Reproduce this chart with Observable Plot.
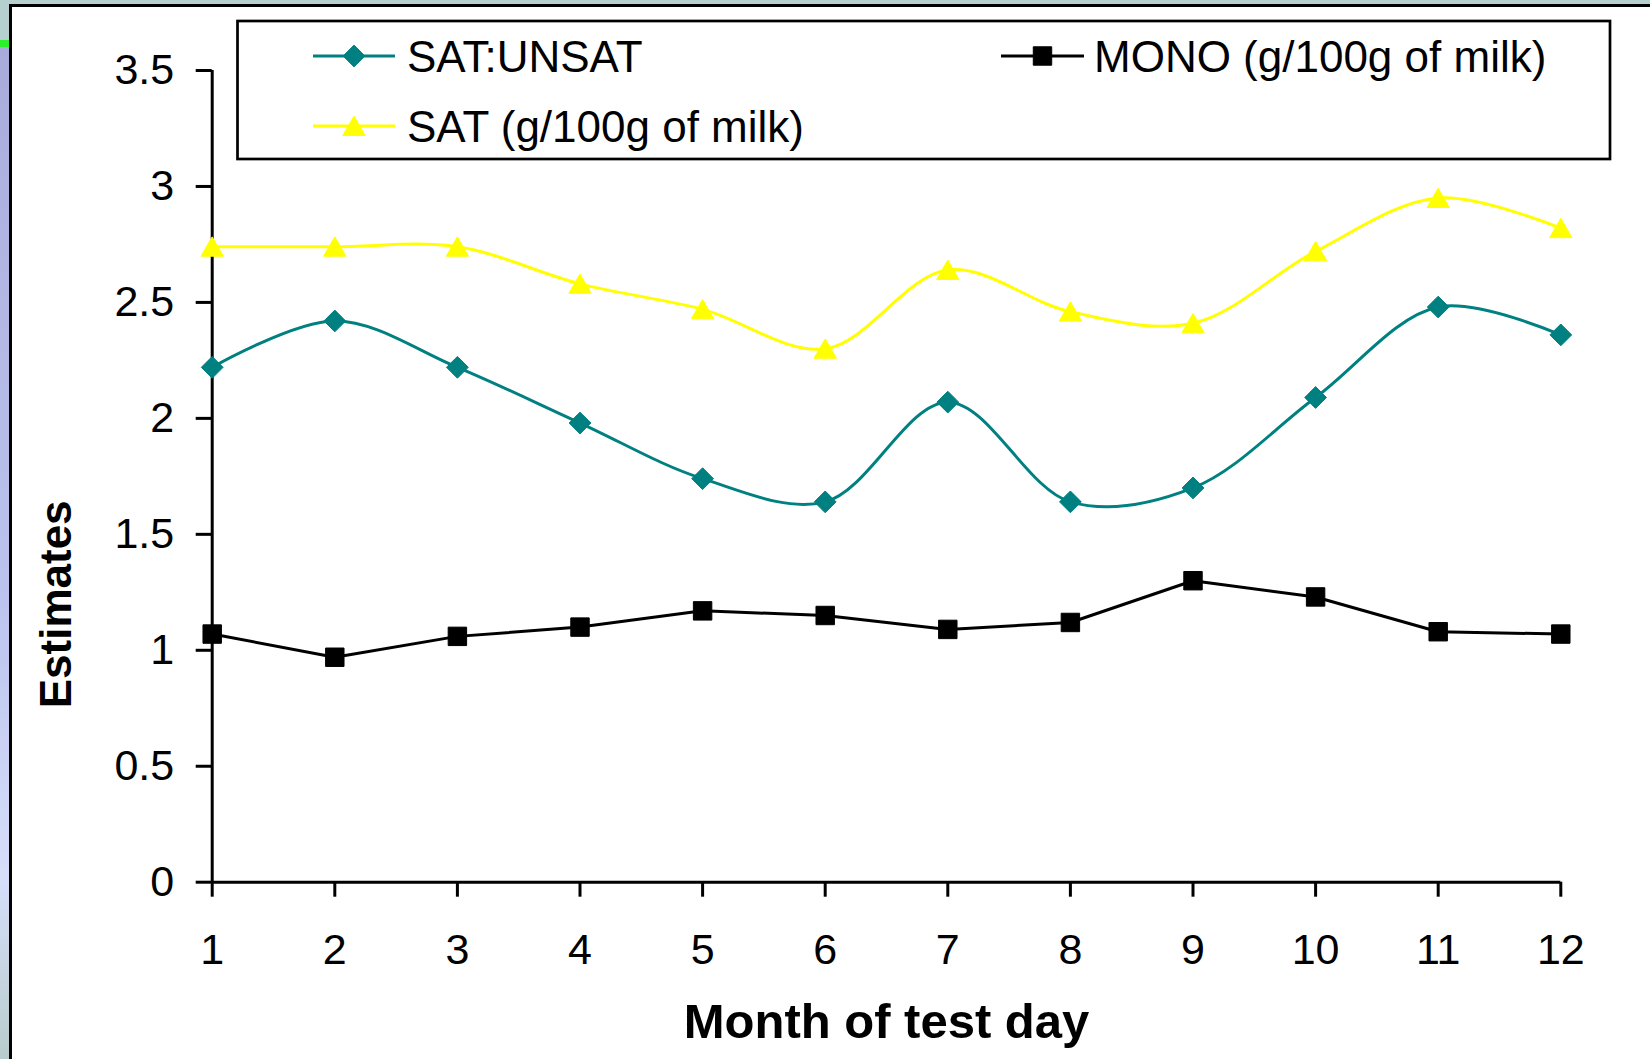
<!DOCTYPE html>
<html>
<head>
<meta charset="utf-8">
<script src="https://cdn.jsdelivr.net/npm/d3@7"></script>
<script src="https://cdn.jsdelivr.net/npm/@observablehq/plot@0.6"></script>
<style>
  html, body { margin: 0; padding: 0; width: 1650px; height: 1059px; overflow: hidden; background: #b6d0d0; }
  #strip { position: absolute; left: 0; top: 47px; width: 9px; height: 1012px;
           background: linear-gradient(#a9acdb, #bcc3ee 55%, #d6defa 82%, #b8cccc); }
  #green { position: absolute; left: 0; top: 40px; width: 10px; height: 7px; background: #2cf02c; }
  #frame { position: absolute; left: 8.5px; top: 3.5px; right: 0; bottom: 0; background: #fff;
           border-top: 3px solid #000; border-left: 3px solid #000; }
  #chart, #legend { position: absolute; left: 0; top: 0; }
</style>
</head>
<body>
<div id="strip"></div>
<div id="green"></div>
<div id="frame"></div>
<div id="chart"></div>
<svg id="legend" width="1650" height="1059"></svg>
<script>
// Month of test day
const months = [1, 2, 3, 4, 5, 6, 7, 8, 9, 10, 11, 12];
// Estimates per month
const satUnsat = [2.22, 2.42, 2.22, 1.98, 1.74, 1.64, 2.07, 1.64, 1.70, 2.09, 2.48, 2.36];
const mono     = [1.07, 0.97, 1.06, 1.10, 1.17, 1.15, 1.09, 1.12, 1.30, 1.23, 1.08, 1.07];
const sat      = [2.74, 2.74, 2.74, 2.58, 2.47, 2.30, 2.64, 2.46, 2.41, 2.72, 2.95, 2.82];
// Axis ticks
const yTicks = [0, 0.5, 1, 1.5, 2, 2.5, 3, 3.5];
const xTicks = months;
// Series names
const seriesNames = ["SAT:UNSAT", "MONO (g/100g of milk)", "SAT (g/100g of milk)"];

const FONT = "'Liberation Sans', Arial, Helvetica, sans-serif";
const rows = months.map((m, i) => ({month: m, satUnsat: satUnsat[i], mono: mono[i], sat: sat[i]}));

// marker styles for each series (also used by the legend)
const series = [
  {name: seriesNames[0], key: "satUnsat", color: "#008080", symbol: "diamond2", d3sym: d3.symbolDiamond2, r: 9.8, dy: 0, curve: "catmull-rom"},
  {name: seriesNames[1], key: "mono", color: "#000000", symbol: "square", d3sym: d3.symbolSquare, r: 10.4, dy: 0, curve: "linear"},
  {name: seriesNames[2], key: "sat", color: "#ffff00", symbol: "triangle", d3sym: d3.symbolTriangle, r: 8.3, dy: 3, curve: "catmull-rom"}
];

const marks = [
  Plot.axisY({ticks: yTicks, tickSize: 16, tickPadding: 22, tickFormat: d => String(d), label: null, strokeWidth: 3, fontSize: 43}),
  Plot.axisX({ticks: xTicks, tickSize: 15, tickPadding: 36, tickFormat: d => String(d), label: null, strokeWidth: 3, fontSize: 43}),
  Plot.ruleX([1], {y1: 0, y2: 3.5, stroke: "#000", strokeWidth: 3}),
  Plot.ruleY([0], {x1: 1, x2: 12, stroke: "#000", strokeWidth: 3})
];
for (const s of [series[1], series[0], series[2]]) {
  marks.push(Plot.line(rows, {x: "month", y: s.key, stroke: s.color, strokeWidth: 3, curve: s.curve}));
}
for (const s of [series[1], series[0], series[2]]) {
  marks.push(Plot.dot(rows, {x: "month", y: s.key, symbol: s.symbol, r: s.r, fill: s.color,
    stroke: s.color, strokeWidth: 1, strokeLinejoin: "round", dy: s.dy}));
}
marks.push(
  Plot.text(["Month of test day"], {text: d => d, frameAnchor: "bottom", dy: 140, lineAnchor: "middle",
    textAnchor: "middle", fontWeight: "bold", fontSize: 49, fill: "#000"}),
  Plot.text(["Estimates"], {text: d => d, frameAnchor: "left", rotate: -90, dx: -155, dy: 128, lineAnchor: "middle",
    textAnchor: "middle", fontWeight: "bold", fontSize: 44, fill: "#000"})
);

const chart = Plot.plot({
  width: 1650,
  height: 1059,
  marginLeft: 211.7,
  marginRight: 89.7,
  marginTop: 70,
  marginBottom: 177.3,
  style: {background: "transparent", fontFamily: FONT, fontSize: "43px", color: "#000", overflow: "visible"},
  x: {type: "linear", domain: [1, 12]},
  y: {type: "linear", domain: [0, 3.5]},
  marks
});
document.getElementById("chart").appendChild(chart);

// Legend box drawn over the top of the plot area
const lg = d3.select("#legend").style("font-family", FONT);
lg.append("rect").attr("x", 237.5).attr("y", 21).attr("width", 1372.5).attr("height", 138)
  .attr("fill", "#fff").attr("stroke", "#000").attr("stroke-width", 2.7);
const slots = [
  {x0: 313, x1: 395, tx: 407, y: 56},
  {x0: 1001, x1: 1084, tx: 1094, y: 56},
  {x0: 313, x1: 395, tx: 407, y: 126}
];
series.forEach((s, i) => {
  const p = slots[i];
  const g = lg.append("g");
  g.append("line").attr("x1", p.x0).attr("x2", p.x1).attr("y1", p.y).attr("y2", p.y)
    .attr("stroke", s.color).attr("stroke-width", 3);
  g.append("path").attr("d", d3.symbol(s.d3sym, s.r * s.r * Math.PI)())
    .attr("transform", `translate(${(p.x0 + p.x1) / 2},${p.y + s.dy})`)
    .attr("fill", s.color).attr("stroke", s.color).attr("stroke-width", 1).attr("stroke-linejoin", "round");
  g.append("text").attr("x", p.tx).attr("y", p.y).attr("dy", "0.36em")
    .attr("font-size", 44).attr("fill", "#000").text(s.name);
});
</script>
</body>
</html>
